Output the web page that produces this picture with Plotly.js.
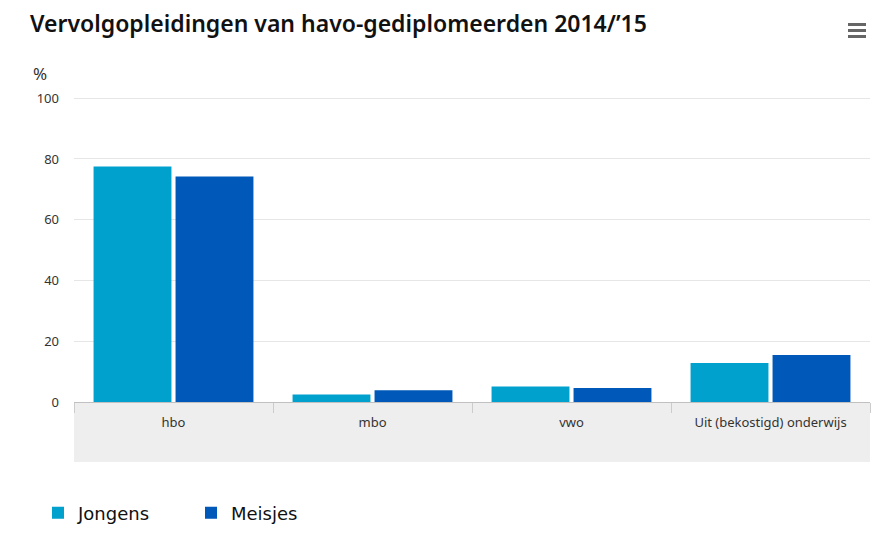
<!DOCTYPE html>
<html>
<head>
<meta charset="utf-8">
<script src="https://cdn.plot.ly/plotly-3.0.1.min.js"></script>
<style>html,body{margin:0;padding:0;background:#fff;}#chart{width:877px;height:536px;}</style>
</head>
<body>
<div id="chart"></div>
<script>
const categories = ["hbo", "mbo", "vwo", "Uit (bekostigd) onderwijs"];
const jongens = [77.5, 2.5, 5.1, 12.8];
const meisjes = [74.2, 3.9, 4.6, 15.5];
const seriesNames = ["Jongens", "Meisjes"];
const yTicks = [0, 20, 40, 60, 80, 100];

const traces = [
  {type: "bar", name: seriesNames[0], x: categories, y: jongens, marker: {color: "#00a1cd"}, hoverinfo: "x+y+name"},
  {type: "bar", name: seriesNames[1], x: categories, y: meisjes, marker: {color: "#0058b8"}, hoverinfo: "x+y+name"}
];

const layout = {
  width: 877, height: 536,
  margin: {l: 74, r: 7, t: 97, b: 134},
  paper_bgcolor: "#ffffff", plot_bgcolor: "#ffffff",
  font: {family: "Noto Sans, sans-serif", size: 13, color: "#333333"},
  title: {text: "Vervolgopleidingen van havo-gediplomeerden 2014/’15",
          x: 30/877, xanchor: "left", xref: "container", y: 1 - 24/536, yanchor: "middle", yref: "container",
          font: {family: "Noto Sans, sans-serif", size: 23, color: "#111111", weight: 600}},
  bargap: 0.176, bargroupgap: 0.05,
  xaxis: {type: "category", tickson: "boundaries", ticks: "outside", ticklen: 10, tickcolor: "#cccccc",
          showline: true, linecolor: "#c0c0c0", linewidth: 1, showgrid: false, zeroline: false,
          ticklabelstandoff: 8,
          tickfont: {family: "Noto Sans, sans-serif", size: 13, color: "#333333"}, fixedrange: true},
  yaxis: {range: [0, 100.4], tickvals: yTicks, showgrid: true, gridcolor: "#e6e6e6", gridwidth: 1,
          zeroline: false, showline: false, ticks: "", ticklabelstandoff: 14,
          tickfont: {family: "Noto Sans, sans-serif", size: 13, color: "#333333"}, fixedrange: true},
  showlegend: true,
  legend: {orientation: "h", x: 38/877, xanchor: "left", xref: "container", y: 1 - 513/536, yref: "container", yanchor: "middle",
           font: {family: "DejaVu Sans, sans-serif", size: 18, color: "#111111"}, entrywidth: 108, entrywidthmode: "pixels",
           itemsizing: "constant", traceorder: "normal"},
  shapes: [
    {type: "rect", xref: "paper", yref: "paper", x0: 0, x1: 1, y0: 0, y1: -60/305, fillcolor: "#eeeeee", line: {width: 0}, layer: "below"},
    {type: "rect", xref: "paper", yref: "paper", x0: 774/796, x1: 792/796, y0: 1 + (97-23)/305, y1: 1 + (97-26)/305, fillcolor: "#666666", line: {width: 0}},
    {type: "rect", xref: "paper", yref: "paper", x0: 774/796, x1: 792/796, y0: 1 + (97-29)/305, y1: 1 + (97-32)/305, fillcolor: "#666666", line: {width: 0}},
    {type: "rect", xref: "paper", yref: "paper", x0: 774/796, x1: 792/796, y0: 1 + (97-35)/305, y1: 1 + (97-38)/305, fillcolor: "#666666", line: {width: 0}}
  ],
  annotations: [
    {text: "%", xref: "paper", yref: "paper", x: -43/796, y: 1 + 24/305, xanchor: "left", yanchor: "middle", showarrow: false,
     font: {family: "Noto Sans, sans-serif", size: 17, color: "#333333"}}
  ]
};

Plotly.newPlot("chart", traces, layout, {displayModeBar: false, responsive: false});
</script>
</body>
</html>
